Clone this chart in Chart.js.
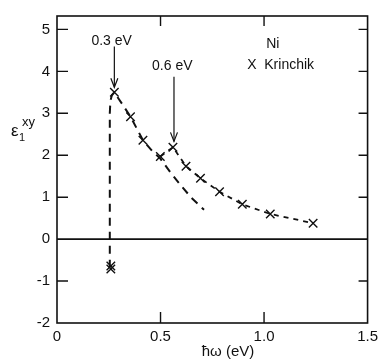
<!DOCTYPE html>
<html>
<head>
<meta charset="utf-8">
<script src="https://cdn.jsdelivr.net/npm/chart.js@4.4.1/dist/chart.umd.min.js"></script>
<style>
  body { margin: 0; background: #fff; }
  canvas { display: block; }
</style>
</head>
<body>
<canvas id="myChart" width="383" height="362"></canvas>
<script>
// tick values and labels
var xTicks = [0, 0.5, 1.0, 1.5];
var xTickLabels = ["0", "0.5", "1.0", "1.5"];
var yTicks = [-2, -1, 0, 1, 2, 3, 4, 5];

// Krinchik measurements (crosses)
var krinchikX = [0.26, 0.26, 0.277, 0.355, 0.415, 0.499, 0.56, 0.623, 0.693, 0.785, 0.895, 1.03, 1.237];
var krinchikY = [-0.64, -0.71, 3.50, 2.92, 2.36, 1.97, 2.19, 1.74, 1.45, 1.13, 0.83, 0.60, 0.38];

// dashed curve linking the crosses past 0.5 eV
var linkX = [0.499, 0.56, 0.623, 0.693, 0.785, 0.895, 1.03, 1.237];
var linkY = [1.97, 2.19, 1.74, 1.45, 1.13, 0.83, 0.60, 0.38];

// theory curve (long dashes)
var theoryX = [0.255, 0.255, 0.258, 0.265, 0.277, 0.315, 0.355, 0.415, 0.46, 0.499, 0.55, 0.6, 0.65, 0.71];
var theoryY = [-0.68, 3.0, 3.3, 3.43, 3.5, 3.22, 2.92, 2.36, 2.1, 1.92, 1.58, 1.27, 0.98, 0.7];

function pts(xs, ys) {
  var out = [];
  for (var i = 0; i < xs.length; i++) out.push({x: xs[i], y: ys[i]});
  return out;
}

var FONT = "'Liberation Sans', Arial, sans-serif";

var framePlugin = {
  id: 'frame',
  afterDatasetsDraw: function(chart) {
    var ctx = chart.ctx;
    var a = chart.chartArea;
    var xs = chart.scales.x, ys = chart.scales.y;
    ctx.save();
    ctx.strokeStyle = '#111';
    ctx.lineWidth = 1.6;
    ctx.strokeRect(a.left, a.top, a.right - a.left, a.bottom - a.top);

    // zero line
    var y0 = ys.getPixelForValue(0);
    ctx.beginPath();
    ctx.moveTo(a.left, y0);
    ctx.lineTo(a.right, y0);
    ctx.stroke();

    // inward ticks
    ctx.lineWidth = 1.4;
    yTicks.forEach(function(v) {
      if (v === 0 || v === -2) return;
      var py = ys.getPixelForValue(v);
      ctx.beginPath();
      ctx.moveTo(a.left, py); ctx.lineTo(a.left + 11, py);
      ctx.moveTo(a.right, py); ctx.lineTo(a.right - 9, py);
      ctx.stroke();
    });
    [0.5, 1.0].forEach(function(v) {
      var px = xs.getPixelForValue(v);
      ctx.beginPath();
      ctx.moveTo(px, a.bottom); ctx.lineTo(px, a.bottom - 11);
      ctx.moveTo(px, a.top); ctx.lineTo(px, a.top + 10);
      ctx.stroke();
    });

    // arrows
    function arrow(xv, y1, y2) {
      var px = xs.getPixelForValue(xv);
      var p1 = ys.getPixelForValue(y1), p2 = ys.getPixelForValue(y2);
      ctx.lineWidth = 1.2;
      ctx.beginPath();
      ctx.moveTo(px, p1); ctx.lineTo(px, p2);
      ctx.stroke();
      ctx.beginPath();
      ctx.moveTo(px - 3.5, p2 - 9); ctx.lineTo(px, p2); ctx.lineTo(px + 3.5, p2 - 9);
      ctx.stroke();
    }
    arrow(0.277, 4.59, 3.62);
    arrow(0.565, 3.87, 2.33);

    // texts
    ctx.fillStyle = '#111';
    ctx.textAlign = 'center';
    ctx.textBaseline = 'middle';
    ctx.font = '14px ' + FONT;
    ctx.fillText('0.3 eV', xs.getPixelForValue(0.264), ys.getPixelForValue(4.73));
    ctx.fillText('0.6 eV', xs.getPixelForValue(0.557), ys.getPixelForValue(4.12));
    ctx.fillText('Ni', xs.getPixelForValue(1.042), ys.getPixelForValue(4.66));
    ctx.fillText('X  Krinchik', xs.getPixelForValue(1.08), ys.getPixelForValue(4.15));

    // y axis title: epsilon_1^xy
    ctx.textAlign = 'left';
    ctx.font = '17px ' + FONT;
    ctx.fillText('\u03b5', 11, 131);
    ctx.font = '11px ' + FONT;
    ctx.fillText('1', 19, 138);
    ctx.font = '13px ' + FONT;
    ctx.fillText('xy', 22, 122);

    // x axis title
    ctx.textAlign = 'center';
    ctx.font = '15px ' + FONT;
    ctx.fillText('\u0127\u03c9 (eV)', 228, 352);
    ctx.restore();
  }
};

var ctx = document.getElementById("myChart").getContext('2d');
var myChart = new Chart(ctx, {
  type: 'scatter',
  data: {
    datasets: [{
      label: 'Krinchik',
      data: pts(krinchikX, krinchikY),
      pointStyle: 'crossRot',
      pointRadius: 6,
      borderColor: '#111',
      borderWidth: 1.4,
      showLine: false
    }, {
      label: 'link',
      data: pts(linkX, linkY),
      showLine: true,
      pointRadius: 0,
      borderColor: '#111',
      borderWidth: 1.8,
      borderDash: [5, 5],
      fill: false
    }, {
      label: 'theory',
      data: pts(theoryX, theoryY),
      showLine: true,
      pointRadius: 0,
      borderColor: '#111',
      borderWidth: 2,
      borderDash: [8, 6],
      fill: false
    }]
  },
  options: {
    responsive: false,
    animation: false,
    layout: { padding: { top: 9, right: 8, left: 0, bottom: 0 } },
    plugins: { legend: { display: false }, tooltip: { enabled: false } },
    scales: {
      x: {
        type: 'linear',
        min: 0, max: 1.5,
        afterBuildTicks: function(s) { s.ticks = xTicks.map(function(v) { return {value: v}; }); },
        afterFit: function(s) { s.height = 39; },
        grid: { display: false, drawTicks: false },
        border: { display: false },
        ticks: {
          color: '#111',
          font: { family: FONT, size: 15 },
          padding: 5,
          maxRotation: 0,
          autoSkip: false,
          callback: function(v) { var i = xTicks.indexOf(v); return i >= 0 ? xTickLabels[i] : ''; }
        }
      },
      y: {
        type: 'linear',
        min: -2, max: 5.32,
        afterBuildTicks: function(s) { s.ticks = yTicks.map(function(v) { return {value: v}; }); },
        afterFit: function(s) { s.width = 57; },
        grid: { display: false, drawTicks: false },
        border: { display: false },
        ticks: {
          color: '#111',
          font: { family: FONT, size: 15 },
          padding: 7,
          autoSkip: false,
          callback: function(v) { return String(v); }
        }
      }
    }
  },
  plugins: [framePlugin]
});
</script>
</body>
</html>
